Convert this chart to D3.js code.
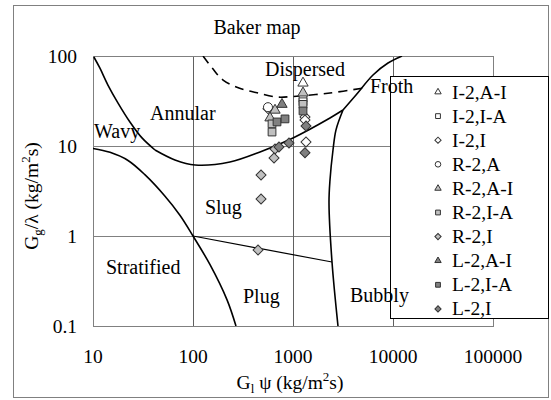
<!DOCTYPE html>
<html>
<head>
<meta charset="utf-8">
<script src="https://cdn.jsdelivr.net/npm/d3@7"></script>
<style>
  body { margin: 0; background: #fff; }
  svg text { font-family: "Liberation Serif", "Times New Roman", serif; fill: #000; }
</style>
</head>
<body>
<div id="chart"></div>
<script>
// axis ticks
var xTicks = [10, 100, 1000, 10000, 100000];
var yTicks = [0.1, 1, 10, 100];

// data series, [Gl psi, Gg/lambda]
var i2AI = [[1259, 50]];
var i2IA = [[1259, 34], [1259, 31]];
var i2I = [[1318, 21], [1318, 19.4], [1349, 11.1], [562, 26]];
var r2A = [[562, 27]];
var r2AI = [[661, 25], [589, 20.5], [1259, 38.8]];
var r2IA = [[617, 17.6], [617, 14.3], [1259, 29]];
var r2I = [[661, 9.26], [646, 7.36], [479, 4.77], [479, 2.58], [447, 0.70]];
var l2AI = [[776, 29]];
var l2IA = [[692, 18.5], [832, 20], [1259, 24.5]];
var l2I = [[724, 9.75], [912, 10.8], [1349, 16.7], [1318, 8.4]];

var seriesNames = ["I-2,A-I", "I-2,I-A", "I-2,I", "R-2,A", "R-2,A-I", "R-2,I-A", "R-2,I", "L-2,A-I", "L-2,I-A", "L-2,I"];
var seriesData = [i2AI, i2IA, i2I, r2A, r2AI, r2IA, r2I, l2AI, l2IA, l2I];
var seriesShape = ["tri", "sq", "dia", "circ", "tri", "sq", "dia", "tri", "sq", "dia"];
var seriesFill = ["#fff", "#fff", "#fff", "#fff", "#c0c0c0", "#c0c0c0", "#c0c0c0", "#808080", "#808080", "#808080"];

// flow regime boundaries (Baker map)
var topLeftLine = [[10.2, 97.5], [11.7, 73.6], [14.1, 47.6], [17.8, 30], [23.4, 18.5], [30.9, 12.3], [41.7, 9.03]];
var annularLine = [[41.7, 9.03], [66, 7.0], [105, 6.15], [234, 6.64], [468, 8.58], [1000, 12.3], [2344, 20.5], [3162, 25.1]];
var frothLine = [[3162, 25.1], [4266, 36.9], [6310, 61.5], [8913, 83.5], [12303, 100]];
var bubblyLine = [[3162, 25.1], [2692, 15.1], [2512, 9.03], [2344, 4.19], [2291, 2.33], [2455, 0.514], [2818, 0.1]];
var plugLine = [[100, 1], [2455, 0.514]];
var wavyLine = [[10, 9.4], [14.8, 8.5], [22.4, 6.9], [33, 4.8], [52, 2.8], [74, 1.7], [100, 1], [148, 0.48], [219, 0.195], [269, 0.1]];
var dispersedLine = [[126, 100], [158, 72], [200, 54], [288, 44], [437, 39], [692, 35], [1000, 35.5], [2344, 38.8], [5011, 44]];

var regimeLabels = [["Dispersed", 265, 76], ["Froth", 370, 93], ["Annular", 150, 120], ["Wavy", 94, 138],
    ["Slug", 205, 214], ["Stratified", 106, 274], ["Plug", 243, 303], ["Bubbly", 350, 302]];

var width = 551, height = 400;
var svg = d3.select("#chart").append("svg")
    .attr("width", width)
    .attr("height", height);

// chart border
svg.append("rect")
    .attr("x", 13.5).attr("y", 5.5)
    .attr("width", 535).attr("height", 392)
    .attr("fill", "#fff")
    .attr("stroke", "#808080");

var x = d3.scaleLog().domain([10, 100000]).range([93, 493]);
var y = d3.scaleLog().domain([0.1, 100]).range([326, 56]);

// gridlines
svg.selectAll(".hgrid")
    .data([1, 10])
    .enter().append("line")
    .attr("x1", x(10)).attr("x2", x(100000))
    .attr("y1", function (d) { return y(d) + 0.5; })
    .attr("y2", function (d) { return y(d) + 0.5; })
    .attr("stroke", "#808080");
svg.selectAll(".vgrid")
    .data([100, 1000, 10000])
    .enter().append("line")
    .attr("x1", function (d) { return x(d) + 0.5; })
    .attr("x2", function (d) { return x(d) + 0.5; })
    .attr("y1", y(100)).attr("y2", y(0.1))
    .attr("stroke", "#606060");

svg.append("rect")
    .attr("x", x(10) + 0.5).attr("y", y(100) + 0.5)
    .attr("width", x(100000) - x(10)).attr("height", y(0.1) - y(100))
    .attr("fill", "none")
    .attr("stroke", "#808080");

// tick labels
svg.selectAll(".xlab")
    .data(xTicks)
    .enter().append("text")
    .attr("x", function (d) { return x(d); })
    .attr("y", 363)
    .attr("text-anchor", "middle")
    .attr("font-size", 19.5)
    .text(function (d) { return d; });
svg.selectAll(".ylab")
    .data(yTicks)
    .enter().append("text")
    .attr("x", 77)
    .attr("y", function (d) { return y(d) + 6.5; })
    .attr("text-anchor", "end")
    .attr("font-size", 19.5)
    .text(function (d) { return d; });

// boundaries
var line = d3.line()
    .x(function (d) { return x(d[0]); })
    .y(function (d) { return y(d[1]); })
    .curve(d3.curveCatmullRom);

var clip = svg.append("clipPath").attr("id", "plotclip")
    .append("rect")
    .attr("x", x(10)).attr("y", y(100))
    .attr("width", x(100000) - x(10)).attr("height", y(0.1) - y(100));

var bounds = svg.append("g").attr("clip-path", "url(#plotclip)");
[topLeftLine, annularLine, frothLine, bubblyLine, wavyLine].forEach(function (b) {
    bounds.append("path")
        .attr("d", line(b))
        .attr("fill", "none")
        .attr("stroke", "#000")
        .attr("stroke-width", 1.6);
});
bounds.append("path")
    .attr("d", d3.line().x(function (d) { return x(d[0]); }).y(function (d) { return y(d[1]); })(plugLine))
    .attr("fill", "none")
    .attr("stroke", "#000")
    .attr("stroke-width", 1.2);
bounds.append("path")
    .attr("d", line(dispersedLine))
    .attr("fill", "none")
    .attr("stroke", "#000")
    .attr("stroke-width", 1.6)
    .attr("stroke-dasharray", "9,6");

// title
svg.append("text")
    .attr("x", 257).attr("y", 34)
    .attr("text-anchor", "middle")
    .attr("font-size", 20)
    .text("Baker map");

function markerPath(shape, big) {
    var s = big ? 1 : 0.62;
    if (shape == "tri") return d3.symbol(d3.symbolTriangle, 46 * s * s)();
    if (shape == "sq") return d3.symbol(d3.symbolSquare, 60 * s * s)();
    if (shape == "circ") return d3.symbol(d3.symbolCircle, 64 * s * s)();
    return d3.symbol(d3.symbolSquare, 50 * s * s)();
}

// points
seriesData.forEach(function (data, i) {
    svg.append("g").selectAll("path")
        .data(data)
        .enter().append("path")
        .attr("d", markerPath(seriesShape[i], true))
        .attr("transform", function (d) {
            return "translate(" + x(d[0]) + "," + y(d[1]) + ")" + (seriesShape[i] == "dia" ? " rotate(45)" : "");
        })
        .attr("fill", seriesFill[i])
        .attr("stroke", "#333")
        .attr("stroke-width", 1);
});

// legend
var legend = svg.append("g");
legend.append("rect")
    .attr("x", 390.5).attr("y", 76.5)
    .attr("width", 158).attr("height", 242)
    .attr("fill", "#fff")
    .attr("stroke", "#000");
seriesNames.forEach(function (name, i) {
    var ly = 92 + i * 24.1;
    legend.append("path")
        .attr("d", markerPath(seriesShape[i], false))
        .attr("transform", "translate(438," + ly + ")" + (seriesShape[i] == "dia" ? " rotate(45)" : ""))
        .attr("fill", seriesFill[i])
        .attr("stroke", "#333");
    legend.append("text")
        .attr("x", 452).attr("y", ly + 6.5)
        .attr("font-size", 19.5)
        .text(name);
});

// regime labels sit above the legend box
svg.selectAll(".regime")
    .data(regimeLabels)
    .enter().append("text")
    .attr("x", function (d) { return d[1]; })
    .attr("y", function (d) { return d[2]; })
    .attr("font-size", 20)
    .text(function (d) { return d[0]; });

// axis titles
var xt = svg.append("text")
    .attr("x", 290).attr("y", 389)
    .attr("text-anchor", "middle")
    .attr("font-size", 19.5);
xt.append("tspan").text("G");
xt.append("tspan").attr("font-size", 13).attr("dy", 4).text("l");
xt.append("tspan").attr("dy", -4).text(" \u03c8 (kg/m");
xt.append("tspan").attr("font-size", 13).attr("dy", -8).text("2");
xt.append("tspan").attr("dy", 8).text("s)");

var yt = svg.append("text")
    .attr("transform", "translate(38,196) rotate(-90)")
    .attr("text-anchor", "middle")
    .attr("font-size", 19.5);
yt.append("tspan").text("G");
yt.append("tspan").attr("font-size", 13).attr("dy", 4).text("g");
yt.append("tspan").attr("dy", -4).text("/\u03bb (kg/m");
yt.append("tspan").attr("font-size", 13).attr("dy", -8).text("2");
yt.append("tspan").attr("dy", 8).text("s)");
</script>
</body>
</html>
